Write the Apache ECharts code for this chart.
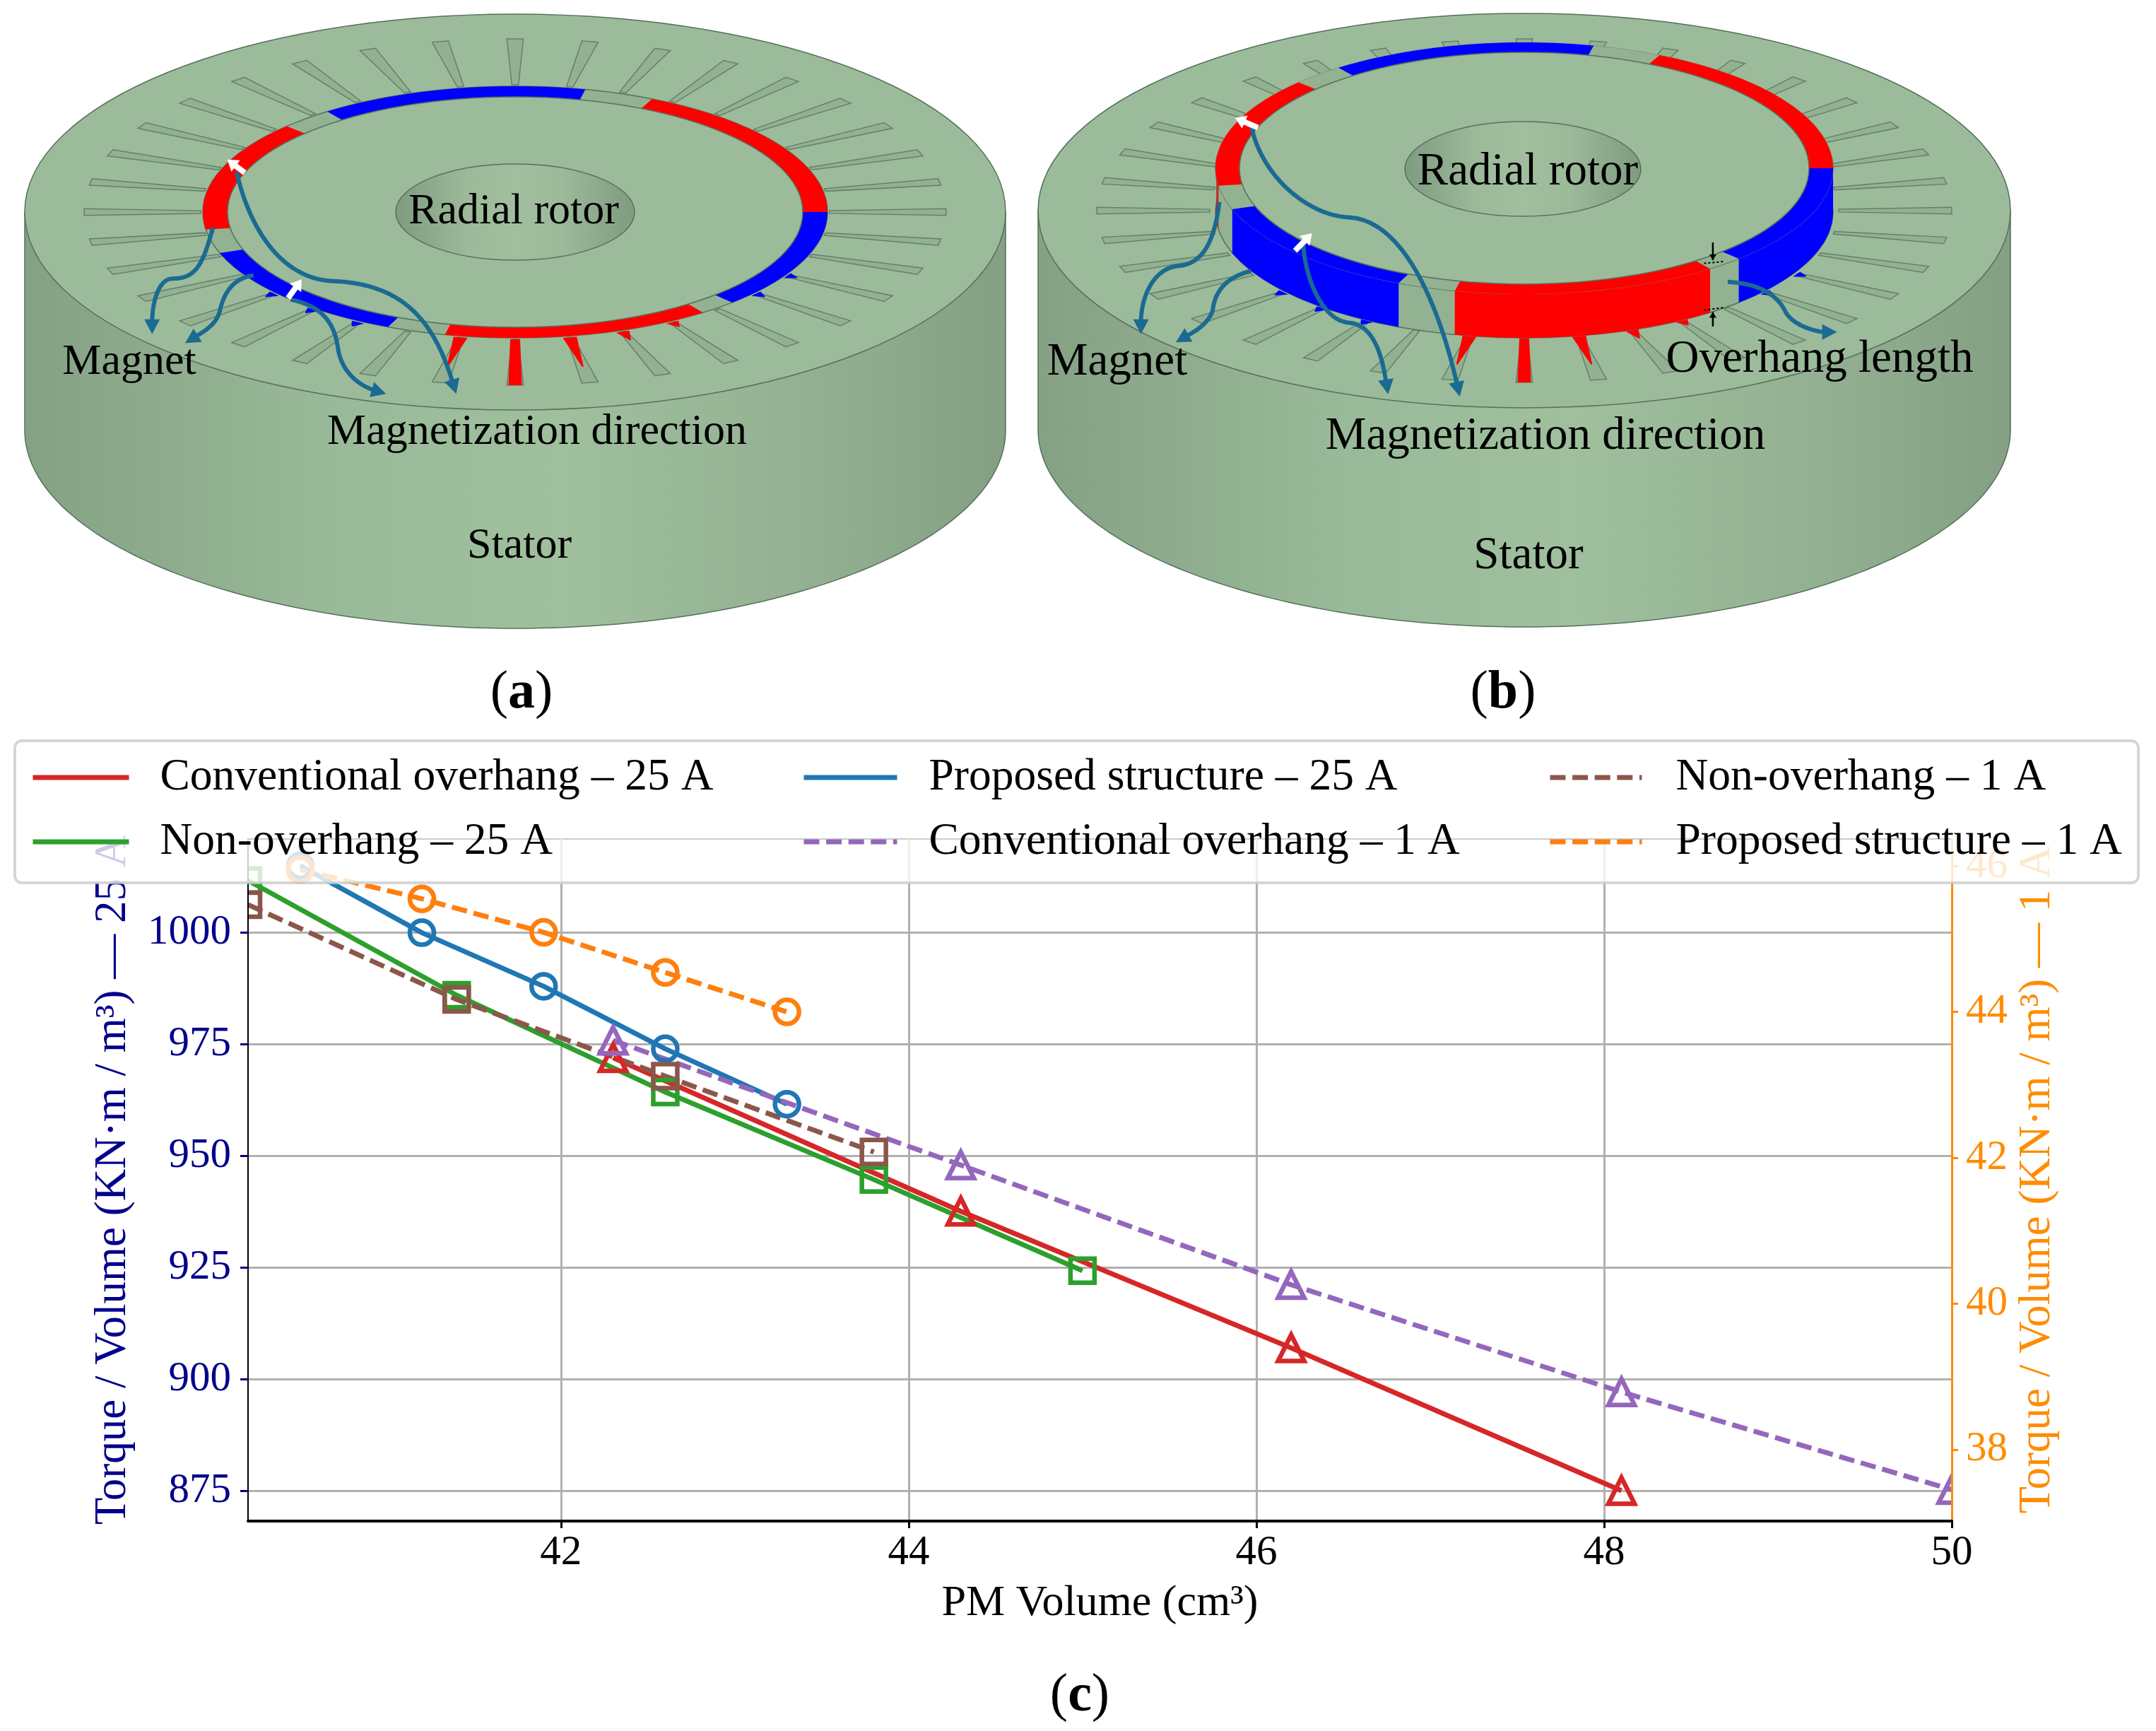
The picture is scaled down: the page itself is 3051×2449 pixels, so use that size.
<!DOCTYPE html>
<html><head><meta charset="utf-8">
<style>html,body{margin:0;padding:0;background:#fff}#c{width:3051px;height:2449px}</style>
<script src="https://cdn.jsdelivr.net/npm/echarts@6/dist/echarts.min.js"></script>
</head><body><div id="c"></div>
<script>
// ---- chart values ----
const xTicks = [42, 44, 46, 48, 50];
const leftTicks = [875, 900, 925, 950, 975, 1000];
const rightTicks = [38, 40, 42, 44, 46];
const xConv = [42.3, 44.3, 46.2, 48.1];
const convA25 = [972, 937.6, 907, 875];
const xNon = [40.2, 41.4, 42.6, 43.8, 45.0];
const nonA25 = [1011.7, 986, 964.3, 944.7, 924.3];
const xProp = [40.5, 41.2, 41.9, 42.6, 43.3];
const propA25 = [1015, 1000, 988, 974, 961.6];
const xConv1 = [42.3, 44.3, 46.2, 48.1, 50];
const convA1 = [43.61, 41.9, 40.26, 38.79, 37.45];
const xNon1 = [40.2, 41.4, 42.6, 43.8];
const nonA1 = [45.47, 44.17, 43.12, 42.08];
const propA1 = [45.95, 45.55, 45.09, 44.54, 44.0];
const names = ['Conventional overhang – 25 A','Non-overhang – 25 A','Proposed structure – 25 A',
  'Conventional overhang – 1 A','Non-overhang – 1 A','Proposed structure – 1 A'];
// slot angles and magnet angular spans of the two sketches (degrees)
const magnetSpans = [[53,103,'#ff0000'],[114,161,'#0000ff'],[172,223,'#ff0000'],[233,283,'#0000ff'],[296,360,'#ff0000'],[0,46,'#0000ff']];
const teeth = [[90,1,'#ff0000'],[80,.65,'#ff0000'],[100,.65,'#ff0000'],[70,.2,'#ff0000'],[60,.12,'#ff0000'],
  [120,.1,'#0000ff'],[130,.1,'#0000ff'],[140,.1,'#0000ff'],[30,.1,'#0000ff'],[40,.1,'#0000ff']];

const FONT = '"Liberation Serif"';
const navy = '#00008b', dorange = '#ff8c00';
const rad = d => d*Math.PI/180;
const els = [];
const S = (o) => { o.z = o.z==null?1:o.z; o.silent = true; els.push(o); };
function arc(cx,cy,rx,ry,a,b,n=40){const p=[];for(let i=0;i<=n;i++){const t=rad(a+(b-a)*i/n);p.push([cx+rx*Math.cos(t),cy+ry*Math.sin(t)]);}return p;}
const poly=(points,style)=>S({type:'polygon',shape:{points},style});
const sideGrad={type:'linear',x:0,y:0,x2:1,y2:0,colorStops:[{offset:0,color:'#85a184'},{offset:.33,color:'#9abb99'},{offset:.55,color:'#9fbf9d'},{offset:.8,color:'#93b192'},{offset:1,color:'#849f83'}]};
const shaftGrad={type:'linear',x:0,y:0,x2:1,y2:0,colorStops:[{offset:0,color:'#7f9b80'},{offset:.3,color:'#9cb99a'},{offset:.5,color:'#a1bf9f'},{offset:.7,color:'#9cb99a'},{offset:1,color:'#7f9b80'}]};
const TOP='#9cbb9a', EDGE='#56705a';
function stator(cx,cy,rx,ry,h){
  poly([[cx-rx,cy]].concat(arc(cx,cy+h,rx,ry,180,0,120)).concat([[cx+rx,cy]]),{fill:sideGrad,stroke:EDGE,lineWidth:1.5});
  S({type:'ellipse',shape:{cx,cy,rx,ry},style:{fill:TOP,stroke:EDGE,lineWidth:1.5}});
}
function slots(cx,cy,ri,rj,ro,rp){
  for(let d=0;d<360;d+=10){
    const t1=rad(d-.6),t2=rad(d+.6),o1=rad(d-1.1),o2=rad(d+1.1);
    poly([[cx+ri*Math.cos(t1),cy+rj*Math.sin(t1)],[cx+ro*Math.cos(o1),cy+rp*Math.sin(o1)],[cx+ro*Math.cos(o2),cy+rp*Math.sin(o2)],[cx+ri*Math.cos(t2),cy+rj*Math.sin(t2)]],{fill:'#92b191',stroke:'#64806a',lineWidth:1.5});
  }
}
function toothMarks(cx,cy,ri,rj,ro,rp){
  teeth.forEach(([d,f,c])=>{
    const w=f>=1?.9:1.3, e=f>=1?.9:.1;
    const r=(k)=>[ri+(ro-ri)*k,rj+(rp-rj)*k];
    const [a,b]=r(0),[g,h]=r(f);
    poly([[cx+a*Math.cos(rad(d-w)),cy+b*Math.sin(rad(d-w))],[cx+g*Math.cos(rad(d-e)),cy+h*Math.sin(rad(d-e))],[cx+g*Math.cos(rad(d+e)),cy+h*Math.sin(rad(d+e))],[cx+a*Math.cos(rad(d+w)),cy+b*Math.sin(rad(d+w))]],{fill:c});
  });
}
function ringSegs(cx,cy,orx,ory,irx,iry){
  magnetSpans.forEach(([a,b,c])=>poly(arc(cx,cy,orx,ory,a,b).concat(arc(cx,cy,irx,iry,b,a)),{fill:c}));
}
const TEAL='#1b6a92';
function curve(ox,pts){ // pts given in reference crop units
  const q=pts.map(p=>[ox+p[0]/1.0453,p[1]/1.522]);
  const path=[q[0]];
  for(let i=1;i+2<q.length;i+=3){
    const a=q[i-1],b=q[i],c=q[i+1],d=q[i+2];
    for(let k=1;k<=24;k++){const s=k/24,u=1-s;
      path.push([u*u*u*a[0]+3*u*u*s*b[0]+3*u*s*s*c[0]+s*s*s*d[0],u*u*u*a[1]+3*u*u*s*b[1]+3*u*s*s*c[1]+s*s*s*d[1]]);}
  }
  S({type:'polyline',shape:{points:path},style:{fill:'none',stroke:TEAL,lineWidth:6}});
  const e=q[q.length-1],c=q[q.length-2];
  const l=Math.hypot(e[0]-c[0],e[1]-c[1])||1,ux=(e[0]-c[0])/l,uy=(e[1]-c[1])/l;
  poly([[e[0]+ux*16,e[1]+uy*16],[e[0]-ux*5-uy*11,e[1]-uy*5+ux*11],[e[0]-ux*5+uy*11,e[1]-uy*5-ux*11]],{fill:TEAL});
}
function whiteArrow(ox,a,b){
  const p=[ox+a[0]/1.0453,a[1]/1.522],q=[ox+b[0]/1.0453,b[1]/1.522];
  const l=Math.hypot(q[0]-p[0],q[1]-p[1]),ux=(q[0]-p[0])/l,uy=(q[1]-p[1])/l;
  S({type:'line',shape:{x1:p[0],y1:p[1],x2:q[0]-ux*6,y2:q[1]-uy*6},style:{stroke:'#fff',lineWidth:8}});
  poly([[q[0]+ux*7,q[1]+uy*7],[q[0]-ux*8-uy*10,q[1]-uy*8+ux*10],[q[0]-ux*8+uy*10,q[1]-uy*8-ux*10]],{fill:'#fff'});
}
function label(text,x,y,size){
  S({type:'text',style:{x,y:y+4,text,fontSize:size,fontFamily:FONT,fill:'#000',align:'center',verticalAlign:'middle'},z:3});
}
function caption(letter,x,y,size){
  S({type:'text',style:{x,y,text:`{p|(}{b|${letter}}{p|)}`,align:'center',verticalAlign:'middle',
    rich:{p:{fontSize:size,fontFamily:FONT,fill:'#000'},b:{fontSize:size,fontFamily:FONT,fontWeight:'bold',fill:'#000'}}},z:3});
}
// ---- panel (a) ----
(function(){
  const cx=729,cy=300;
  stator(cx,cy,694,280,309);
  slots(cx,cy,445,180,610,245);
  toothMarks(cx,cy,445,180,610,245);
  S({type:'ellipse',shape:{cx,cy,rx:442,ry:178},style:{fill:'#93b292',stroke:EDGE,lineWidth:1.5}});
  ringSegs(cx,cy,442,178,407,163);
  S({type:'ellipse',shape:{cx,cy,rx:407,ry:163},style:{fill:TOP,stroke:EDGE,lineWidth:1.5}});
  S({type:'ellipse',shape:{cx,cy,rx:169,ry:68},style:{fill:shaftGrad,stroke:EDGE,lineWidth:1.5}});
  curve(0,[[315,490],[300,570],[290,600],[255,600],[235,600],[225,650],[225,695]]);
  curve(0,[[375,593],[340,600],[330,640],[325,670],[320,700],[300,715],[288,726]]);
  curve(0,[[430,645],[480,660],[495,700],[500,750],[505,800],[530,830],[555,841]]);
  curve(0,[[350,370],[370,500],[420,600],[490,605],[590,610],[640,680],[670,825]]);
  whiteArrow(0,[362,372],[342,350]);
  whiteArrow(0,[426,642],[442,610]);
  label('Radial rotor',727,296,62);
  label('Magnet',183,509,62);
  label('Magnetization direction',760,608,62);
  label('Stator',735,769,62);
  caption('a',738,981,76);
})();
// ---- panel (b) ----
(function(){
  const cx=2157,cy=298,top=238,h=62;
  stator(cx,cy,688,279,310);
  slots(cx,cy,445,180,605,243);
  toothMarks(cx,cy,445,180,605,243);
  // rotor outer wall
  poly(arc(cx,top,437,178,-5,185).concat(arc(cx,top+h,437,178,185,-5)),{fill:'#93b292',stroke:EDGE,lineWidth:1.5});
  magnetSpans.forEach(([a,b,c])=>{
    const lo=Math.max(a,-5), hi=Math.min(b,186);
    if(a>300) return;
    if(a>290) { poly(arc(cx,top,437,178,350,b).concat(arc(cx,top+h,437,178,b,350)),{fill:c}); return; }
    if(lo<hi) poly(arc(cx,top,437,178,lo,hi).concat(arc(cx,top+h,437,178,hi,lo)),{fill:c});
  });
  S({type:'ellipse',shape:{cx,cy:top,rx:437,ry:178},style:{fill:'#93b292',stroke:'rgba(86,112,90,0.35)',lineWidth:1}});
  ringSegs(cx,top,437,178,403,164);
  S({type:'ellipse',shape:{cx,cy:top,rx:403,ry:164},style:{fill:TOP,stroke:EDGE,lineWidth:1.5}});
  S({type:'ellipse',shape:{cx:2155,cy:239,rx:167,ry:67},style:{fill:shaftGrad,stroke:EDGE,lineWidth:1.5}});
  const ox=1450;
  curve(ox,[[288,435],[280,530],[260,570],[225,573],[190,580],[172,640],[172,695]]);
  curve(ox,[[335,583],[290,600],[280,640],[278,670],[270,700],[250,715],[238,725]]);
  curve(ox,[[412,525],[415,600],[440,690],[480,695],[520,700],[530,780],[535,825]]);
  curve(ox,[[335,270],[350,380],[420,465],[480,468],[570,475],[620,700],[640,830]]);
  curve(ox,[[1040,607],[1090,610],[1115,640],[1125,670],[1135,700],[1170,715],[1185,715]]);
  whiteArrow(ox,[345,275],[318,258]);
  whiteArrow(ox,[400,540],[420,510]);
  // overhang length marks
  const m=(zx,zy)=>[ox+zx/1.0453,zy/1.522];
  [[[1005,567],[1035,563]],[[1005,668],[1035,662]]].forEach(([a,b])=>{
    const p=m(a[0],a[1]),q=m(b[0],b[1]);
    S({type:'line',shape:{x1:p[0],y1:p[1],x2:q[0],y2:q[1]},style:{stroke:'#000',lineWidth:2,lineDash:[3,3]}});
  });
  [[[1018,522],[1018,560]],[[1018,703],[1018,672]]].forEach(([a,b])=>{
    const p=m(a[0],a[1]),q=m(b[0],b[1]),s=Math.sign(q[1]-p[1]);
    S({type:'line',shape:{x1:p[0],y1:p[1],x2:q[0],y2:q[1]},style:{stroke:'#000',lineWidth:2.5}});
    poly([[q[0],q[1]],[q[0]-5,q[1]-s*8],[q[0]+5,q[1]-s*8]],{fill:'#000'});
  });
  label('Radial rotor',2162,240,65);
  label('Magnet',1581,509,65);
  label('Magnetization direction',2187,614,65);
  label('Overhang length',2575,505,65);
  label('Stator',2163,783,65);
  caption('b',2127,981,76);
})();
caption('c',1528,2400,76);
// ---- plot edge masks so hollow markers are cut at the frame, legend panel ----
S({type:'rect',shape:{x:315,y:1188,width:35,height:964},style:{fill:'#fff'},z:10});
S({type:'rect',shape:{x:2763,y:1188,width:35,height:964},style:{fill:'#fff'},z:10});
S({type:'rect',shape:{x:21,y:1048,width:3005,height:201,r:10},style:{fill:'rgba(255,255,255,0.8)',stroke:'rgba(204,204,204,0.8)',lineWidth:4},z:55});

const pairs=(xs,ys)=>xs.map((x,i)=>[x,ys[i]]);
function line(name,xs,ys,color,dash,sym,yi,size){
  return {name,type:'line',data:pairs(xs,ys),yAxisIndex:yi,xAxisIndex:0,symbol:sym,symbolSize:size,showSymbol:true,showAllSymbol:true,
    clip:true,silent:true,animation:false,
    lineStyle:{color,width:7,type:dash?[22,9.6]:'solid'},
    itemStyle:{color:'transparent',borderColor:color,borderWidth:6.5}};
}
const series=[
  line(names[0],xConv,convA25,'#d62728',false,'triangle',0,37),
  line(names[1],xNon,nonA25,'#2ca02c',false,'rect',0,34),
  line(names[2],xProp,propA25,'#1f77b4',false,'circle',0,34),
  line(names[3],xConv1,convA1,'#9467bd',true,'triangle',1,37),
  line(names[4],xNon1,nonA1,'#8c564b',true,'rect',1,34),
  line(names[5],xProp,propA1,'#ff7f0e',true,'circle',1,34),
];
function legend(left,width,pad,data){
  return {show:true,left,top:1068,orient:'vertical',padding:0,itemWidth:width,itemHeight:30,itemGap:27,z:60,selectedMode:false,data,
    lineStyle:{width:7},
    itemStyle:{color:'transparent',borderWidth:0,borderColor:'transparent'},
    textStyle:{fontSize:63.5,fontFamily:FONT,color:'#000',padding:[0,0,0,pad]}};
}
const xMin=40.2,xMax=50,lMin=868.2,lMax=1021,rMin=37.02,rMax=46.37;
const option={
  animation:false,backgroundColor:'#fff',
  grid:{left:351,top:1187,width:2411,height:965,show:true,borderColor:'#000',borderWidth:2,backgroundColor:'transparent',containLabel:false},
  legend:[legend(43,136,39,[names[0],names[1]]),legend(1134,132,40,[names[2],names[3]]),legend(2190,130,43,[names[4],names[5]])],
  xAxis:[
    {type:'value',min:xMin,max:xMax,position:'bottom',z:50,name:'PM Volume (cm³)',nameLocation:'middle',nameGap:86,
     nameTextStyle:{fontSize:62,fontFamily:FONT,color:'#000'},
     axisLine:{show:true,lineStyle:{color:'#000',width:4}},axisTick:{show:true,length:10,lineStyle:{color:'#000',width:3},customValues:xTicks},
     axisLabel:{show:true,customValues:xTicks,fontSize:59,fontFamily:FONT,color:'#000',margin:16,formatter:v=>String(v)},splitLine:{show:false}},
    {type:'value',min:xMin,max:xMax,position:'bottom',z:0,axisLine:{show:false},axisTick:{show:false,customValues:xTicks},
     axisLabel:{show:false,customValues:xTicks},splitLine:{show:true,lineStyle:{color:'#b0b0b0',width:3}}}
  ],
  yAxis:[
    {type:'value',min:lMin,max:lMax,position:'left',z:50,name:'Torque / Volume (KN·m / m³) — 25 A',nameLocation:'middle',nameGap:159,
     nameTextStyle:{fontSize:63,fontFamily:FONT,color:navy},
     axisLine:{show:true,lineStyle:{color:'#000',width:2}},axisTick:{show:true,length:11,lineStyle:{color:navy,width:3},customValues:leftTicks},
     axisLabel:{show:true,customValues:leftTicks,fontSize:59,fontFamily:FONT,color:navy,margin:24,formatter:v=>String(v)},splitLine:{show:false}},
    {type:'value',min:rMin,max:rMax,position:'right',z:50,name:'Torque / Volume (KN·m / m³) — 1 A',nameLocation:'middle',nameRotate:90,nameGap:88,
     nameTextStyle:{fontSize:63,fontFamily:FONT,color:dorange},
     axisLine:{show:true,lineStyle:{color:dorange,width:3}},axisTick:{show:true,length:9,lineStyle:{color:dorange,width:3},customValues:rightTicks},
     axisLabel:{show:true,customValues:rightTicks,fontSize:59,fontFamily:FONT,color:dorange,margin:20,formatter:v=>String(v)},splitLine:{show:false}},
    {type:'value',min:lMin,max:lMax,position:'left',z:0,axisLine:{show:false},axisTick:{show:false,customValues:leftTicks},
     axisLabel:{show:false,customValues:leftTicks},splitLine:{show:true,lineStyle:{color:'#b0b0b0',width:3}}}
  ],
  series,
  graphic:{elements:els}
};
const chart=echarts.init(document.getElementById('c'),null,{renderer:'canvas',width:3051,height:2449});
chart.setOption(option);
</script></body></html>
